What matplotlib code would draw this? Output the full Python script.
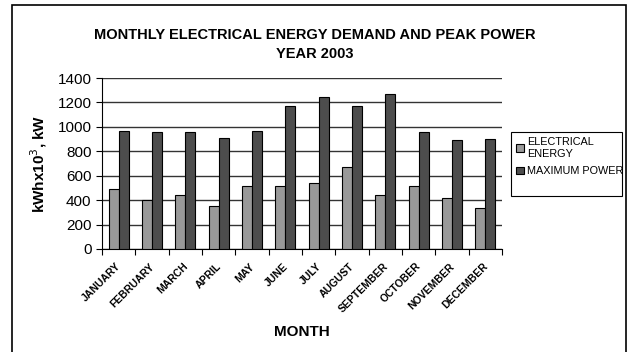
import numpy as np
import matplotlib.pyplot as plt
from matplotlib.patches import Rectangle

plt.rcParams['font.family'] = ['Liberation Sans', 'DejaVu Sans']

months = ['JANUARY', 'FEBRUARY', 'MARCH', 'APRIL', 'MAY', 'JUNE', 'JULY',
          'AUGUST', 'SEPTEMBER', 'OCTOBER', 'NOVEMBER', 'DECEMBER']
energy = [491, 404, 442, 355, 519, 519, 543, 669, 442, 513, 420, 338]
power = [966, 960, 960, 906, 966, 1174, 1242, 1168, 1272, 960, 890, 898]

fig = plt.figure(figsize=(6.28, 3.52), dpi=100)
ax = fig.add_axes([102 / 628, 1 - 249 / 352, 400 / 628, 171 / 352])

x = np.arange(len(months))
w = 0.3
ax.bar(x - w / 2, energy, w, color='#999999', edgecolor='black', linewidth=0.8,
       label='ELECTRICAL\nENERGY', zorder=3)
ax.bar(x + w / 2, power, w, color='#4d4d4d', edgecolor='black', linewidth=0.8,
       label='MAXIMUM POWER', zorder=3)

ax.set_xlim(-0.5, len(months) - 0.5)
ax.set_ylim(0, 1400)
ax.set_yticks(range(0, 1401, 200))
ax.yaxis.grid(True, color='#333333', linewidth=1.0, zorder=0)
ax.tick_params(axis='y', labelsize=11, length=4, direction='out')

# category ticks sit between the groups, labels under each group
ax.set_xticks(np.arange(-0.5, len(months), 1))
ax.set_xticklabels([])
ax.tick_params(axis='x', length=4, direction='out')
for i, m in enumerate(months):
    ax.text(i - 0.08, -100, m, rotation=45, ha='right', va='top',
            rotation_mode='anchor', fontsize=7.5, fontweight='bold',
            transform=ax.transData)

for s in ['top', 'right']:
    ax.spines[s].set_visible(False)

ax.set_ylabel('kWhx10$^3$, kW', fontsize=11, fontweight='bold', labelpad=6)
fig.text(302 / 628, 1 - 332 / 352, 'MONTH', ha='center', va='center',
         fontsize=11, fontweight='bold')
fig.text(315 / 628, 1 - 35 / 352, 'MONTHLY ELECTRICAL ENERGY DEMAND AND PEAK POWER',
         ha='center', va='center', fontsize=10.5, fontweight='bold')
fig.text(315 / 628, 1 - 54 / 352, 'YEAR 2003', ha='center', va='center',
         fontsize=10.5, fontweight='bold')

# legend entries without frame, box drawn separately
leg = ax.legend(loc='upper left', bbox_to_anchor=(513 / 628, 1 - 134 / 352),
                bbox_transform=fig.transFigure, borderaxespad=0, fontsize=7.8,
                frameon=False, handlelength=0.7, handleheight=0.7,
                handletextpad=0.3, borderpad=0.3, labelspacing=0.7)
fig.patches.append(Rectangle((511 / 628, 1 - 196 / 352), 111 / 628, 64 / 352,
                             transform=fig.transFigure, fill=False,
                             edgecolor='black', linewidth=0.8))

# outer chart border
fig.patches.append(Rectangle((12 / 628, -0.05), 614 / 628, 1.05 - 5 / 352,
                             transform=fig.transFigure, fill=False,
                             edgecolor='black', linewidth=1.2))

fig.savefig('out.png', dpi=100)
